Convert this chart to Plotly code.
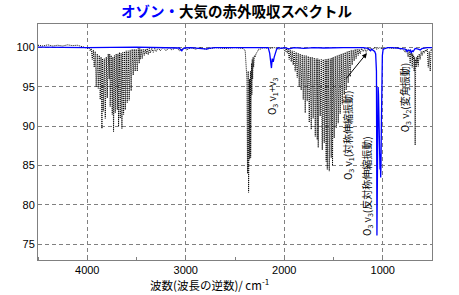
import plotly.graph_objects as go

# ---- Data ----
# Black dotted trace: atmosphere spectrum, split into bands (wavenumber cm-1, transmittance %)
noise_wn = [4500, 4450, 4400, 4350, 4300, 4250, 4200, 4150, 4100, 4060, 4020, 3990]
noise_t = [100.3, 100.2, 100.35, 100.2, 100.3, 100.2, 100.35, 100.25, 100.3, 100.1, 100.0, 99.9]

h2o_str_wn = [3980, 3970, 3960, 3949, 3939, 3929, 3919, 3909, 3898, 3888,
              3878, 3868, 3860, 3851, 3845, 3838, 3827, 3817, 3807, 3797,
              3787, 3777, 3772, 3767, 3757, 3746, 3740, 3733, 3724, 3716,
              3706, 3695, 3688, 3682, 3673, 3665, 3656, 3648, 3640, 3631,
              3622, 3614, 3604, 3594, 3584, 3574, 3564, 3554, 3544, 3533,
              3523, 3513, 3503, 3492, 3482, 3472, 3467, 3462]
h2o_str_t = [99.9, 99.6, 99.9, 98.5, 99.7, 97.5, 99.5, 95.0, 99.2, 94.8,
             99.0, 93.4, 98.8, 89.7, 98.6, 91.9, 98.6, 91.0, 98.8, 93.6,
             99.2, 96.0, 99.2, 92.5, 99.0, 91.5, 98.8, 89.3, 99.0, 91.7,
             99.2, 92.1, 99.2, 90.0, 99.4, 91.0, 99.3, 89.7, 99.4, 91.5,
             99.5, 92.1, 99.6, 93.0, 99.6, 93.3, 99.7, 94.5, 99.8, 96.5,
             99.8, 97.0, 99.8, 97.0, 99.9, 98.0, 99.9, 98.5]

mid_wn = [3452, 3442, 3432, 3421, 3411, 3401, 3391, 3381, 3370, 3361, 3345, 3330, 3315,
          3300, 3280, 3259, 3230, 3200, 3170, 3140, 3100, 3060, 3020, 2990, 2950, 2900,
          2850, 2800, 2700, 2600, 2500, 2420, 2400]
mid_t = [99.8, 98.6, 99.8, 99.0, 99.8, 99.2, 99.9, 99.1, 99.9, 99.3, 99.9, 99.4, 99.9,
         99.5, 100.0, 99.6, 100.0, 99.6, 100.0, 99.7, 100.0, 99.6, 100.0, 99.7, 100.0, 99.8,
         100.0, 99.8, 100.0, 99.9, 100.0, 99.9, 99.7]

co2_wn = [2396, 2386, 2379, 2373, 2371, 2369, 2366, 2362, 2359, 2356,
          2353, 2351, 2348, 2346, 2343, 2341, 2338, 2336, 2332, 2329,
          2325, 2321, 2316, 2311, 2303, 2295, 2285, 2275, 2260, 2244,
          2214, 2150, 2100, 2050, 2020]
co2_t = [99.5, 98.0, 96.0, 84.0, 97.0, 92.0, 97.0, 81.6, 95.0, 90.0,
         96.0, 85.8, 96.5, 91.0, 97.0, 86.0, 97.5, 92.0, 98.0, 94.0,
         98.5, 96.0, 98.8, 97.5, 99.0, 98.8, 99.3, 99.4, 99.8, 99.8,
         100.0, 99.9, 100.0, 99.8, 100.0]

h2o_bend_wn = [2000, 1990, 1980, 1970, 1960, 1950, 1940, 1929, 1919, 1909,
               1899, 1889, 1879, 1868, 1858, 1848, 1838, 1828, 1817, 1807,
               1797, 1787, 1777, 1767, 1756, 1746, 1736, 1726, 1716, 1706,
               1695, 1685, 1675, 1665, 1660, 1655, 1645, 1635, 1624, 1614,
               1604, 1594, 1584, 1574, 1568, 1563, 1553, 1543, 1533, 1523,
               1516, 1510, 1503, 1493, 1482, 1472, 1462, 1452, 1442, 1432,
               1422, 1411, 1401, 1391, 1381, 1371, 1361, 1351, 1341, 1330,
               1320, 1310, 1300, 1290, 1280, 1270, 1260, 1249, 1240, 1229,
               1215, 1198, 1183, 1168, 1150, 1137, 1120, 1107]
h2o_bend_t = [99.7, 99.5, 99.9, 99.3, 99.8, 98.5, 99.7, 98.2, 99.6, 97.8,
              99.5, 97.0, 99.4, 96.2, 99.3, 95.0, 99.2, 94.6, 99.1, 93.4,
              99.0, 91.7, 99.0, 93.2, 98.9, 90.5, 98.8, 89.6, 98.8, 91.0,
              98.7, 88.7, 98.6, 88.3, 98.6, 87.3, 98.5, 91.3, 98.5, 87.0,
              98.5, 87.9, 98.5, 85.5, 98.5, 84.5, 98.6, 84.3, 98.6, 86.0,
              98.7, 85.0, 98.8, 88.5, 98.9, 89.8, 99.0, 90.4, 99.1, 91.6,
              99.2, 92.8, 99.3, 94.0, 99.4, 94.6, 99.5, 95.5, 99.6, 96.3,
              99.7, 97.8, 99.7, 98.3, 99.8, 98.6, 99.8, 99.0, 99.8, 99.2,
              99.9, 99.5, 99.9, 99.4, 99.9, 99.6, 99.9, 99.7]

low_wn = [1090, 1060, 1030, 1000, 950, 900, 850, 823, 800, 772,
          760, 742, 732, 721, 716, 711, 706, 701, 696, 691,
          686, 681, 676, 671, 666, 660, 655, 650, 645, 640,
          630, 620, 610, 600, 590, 579, 569, 559, 548, 538,
          528, 518, 509, 500]
low_t = [100.0, 99.8, 100.0, 99.8, 100.0, 99.9, 100.0, 99.8, 99.9, 99.4,
         99.8, 98.8, 99.6, 98.0, 99.3, 99.0, 99.3, 97.5, 99.2, 98.5,
         99.0, 97.0, 98.8, 87.6, 98.5, 97.5, 98.8, 98.0, 99.0, 97.6,
         99.2, 98.5, 99.5, 99.0, 99.6, 99.3, 99.7, 99.5, 99.8, 97.5,
         99.5, 97.0, 99.8, 99.6]

# Blue trace: ozone spectrum
o3_wn = [4500, 4000, 3500, 3100, 3065, 3050, 3040, 3030, 3010, 2950, 2800, 2785, 2770, 2700,
         2400, 2200, 2163, 2148, 2138, 2130, 2122, 2112, 2102, 2092, 2077, 2061, 2030, 2000,
         1950, 1900, 1800, 1700, 1600, 1400, 1200, 1148, 1123, 1113, 1097, 1082, 1072, 1064,
         1059, 1055, 1052, 1047, 1043, 1036, 1031, 1028, 1025, 1021, 1018, 1014, 1011, 1004,
         996, 950, 900, 823, 772, 752, 742, 732, 721, 711, 701, 691, 671, 640, 620, 600, 589,
         550, 500]
o3_t = [100.05, 100.0, 100.05, 100.0, 99.95, 99.7, 99.6, 99.8, 99.95, 100.0, 99.9, 99.8, 99.9,
        100.0, 100.0, 100.0, 100.0, 99.3, 98.5, 97.4, 98.6, 98.2, 98.8, 99.3, 99.8, 100.0, 99.9,
        100.0, 99.85, 100.0, 99.9, 100.0, 99.95, 100.0, 100.0, 99.9, 99.6, 99.8, 99.7, 99.5,
        99.2, 97.0, 76.1, 88.0, 92.0, 95.0, 94.0, 88.0, 86.0, 84.5, 86.5, 83.5, 85.0, 90.0,
        95.0, 99.0, 99.8, 100.0, 100.0, 99.9, 99.8, 99.5, 99.7, 99.6, 99.7, 99.3, 99.6, 99.5,
        99.9, 99.8, 99.7, 99.9, 99.9, 100.0, 100.0]

x_ticks = [4000, 3000, 2000, 1000]
y_ticks = [75, 80, 85, 90, 95, 100]

title_blue = "オゾン・"
title_black = "大気の赤外吸収スペクトル"
x_title = "波数(波長の逆数)/ cm<sup>-1</sup>"

labels = [
    (2117, 93.8, "O<sub>3</sub> ν<sub>1</sub>+ν<sub>3</sub>"),
    (1351, 88.9, "O<sub>3</sub> ν<sub>1</sub>(対称伸縮振動)"),
    (1161, 82.4, "O<sub>3</sub> ν<sub>3</sub>(反対称伸縮振動)"),
    (772, 93.7, "O<sub>3</sub> ν<sub>2</sub>(変角振動)"),
]

atm_wn = noise_wn + h2o_str_wn + mid_wn + co2_wn + h2o_bend_wn + low_wn
atm_t = noise_t + h2o_str_t + mid_t + co2_t + h2o_bend_t + low_t

CJK = "Noto Sans CJK JP"
GRID = "#808080"

fig = go.Figure()
fig.add_trace(go.Scatter(x=atm_wn, y=atm_t, mode="lines",
                         line=dict(color="black", width=1, dash="1px,1px"),
                         hoverinfo="skip", showlegend=False))
fig.add_trace(go.Scatter(x=o3_wn, y=o3_t, mode="lines",
                         line=dict(color="#0000ff", width=1.3),
                         hoverinfo="skip", showlegend=False))

for x, y, t in labels:
    fig.add_annotation(x=x, y=y, text=t, textangle=-90, showarrow=False,
                       font=dict(family=CJK, size=10, color="black"))

# arrow for v1 label
fig.add_annotation(x=1161, y=99.3, ax=-22, ay=27, text="", showarrow=True,
                   arrowhead=2, arrowsize=1, arrowwidth=1, arrowcolor="black")

fig.add_annotation(xref="paper", yref="paper", x=(209 - 38) / 394, y=-(284 - 260) / 236,
                   text=x_title, showarrow=False, yanchor="middle",
                   font=dict(family=CJK, size=11.5, color="black"))

fig.update_layout(
    width=459, height=295,
    margin=dict(l=38, r=27, t=24, b=35),
    paper_bgcolor="white", plot_bgcolor="white",
    title=dict(text=f"<b><span style='color:#0000ff'>{title_blue}</span>{title_black}</b>",
               x=236.5 / 459, xanchor="center", y=1 - 11.5 / 295, yanchor="middle",
               xref="container", yref="container",
               font=dict(family=CJK, size=14.5, color="black")),
    xaxis=dict(range=[4500, 500], tickvals=x_ticks, ticktext=[str(v) for v in x_ticks],
               showgrid=True, gridcolor=GRID, griddash="4px,3px", gridwidth=1,
               showline=True, linecolor=GRID, linewidth=1, mirror=True,
               ticks="", zeroline=False,
               minor=dict(dtick=500, tick0=500, ticks="inside", ticklen=3, tickcolor=GRID,
                          showgrid=False),
               tickfont=dict(family="Liberation Sans", size=11, color="black")),
    yaxis=dict(range=[73, 103], tickvals=y_ticks, ticktext=[str(v) for v in y_ticks],
               showgrid=True, gridcolor=GRID, griddash="4px,3px", gridwidth=1,
               showline=True, linecolor=GRID, linewidth=1, mirror=True,
               ticks="", zeroline=False,
               tickfont=dict(family="Liberation Sans", size=11, color="black")),
)

fig.write_html("out.html")
